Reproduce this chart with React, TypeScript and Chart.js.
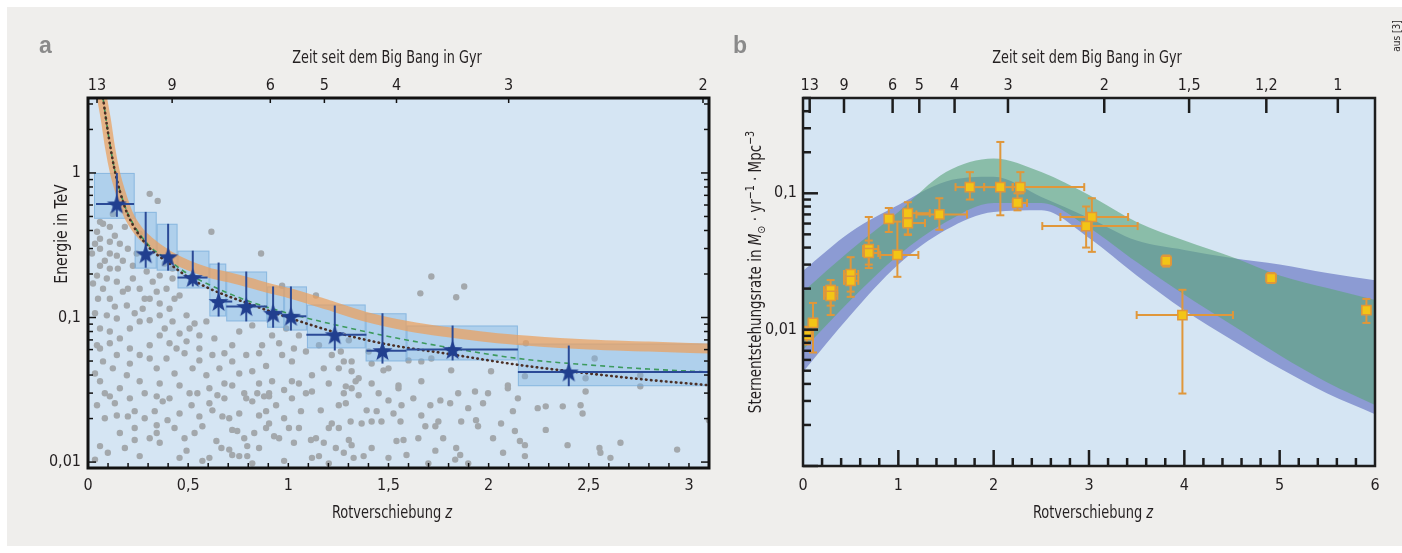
import { useEffect, useRef } from 'react';
import { Chart, registerables } from 'chart.js';

Chart.register(...registerables);

const FONT = '"Liberation Sans Narrow", "DejaVu Sans Condensed", "Open Sans", sans-serif';
const TEXT = '#231f20';

// ---------------- Panel a ----------------
const zTicksA = [0, 0.5, 1, 1.5, 2, 2.5, 3];
const ageZA = [0.045, 0.42, 0.91, 1.18, 1.54, 2.1, 3.07];
const ageLabelsA = ['13', '9', '6', '5', '4', '3', '2'];
const eTicksA = [0.01, 0.1, 1];
const eLabelsA = ['0,01', '0,1', '1'];

const starZ = [0.144, 0.288, 0.4, 0.523, 0.652, 0.79, 0.924, 1.013, 1.232, 1.47, 1.82, 2.4];
const starE = [0.61, 0.276, 0.263, 0.189, 0.129, 0.119, 0.107, 0.102, 0.076, 0.059, 0.06, 0.042];
const starZLo = [0.04, 0.288, 0.4, 0.447, 0.62, 0.69, 0.89, 0.97, 1.09, 1.39, 1.59, 2.146];
const starZHi = [0.23, 0.288, 0.4, 0.597, 0.72, 0.894, 0.97, 1.09, 1.39, 1.59, 2.146, 3.1];
const starELo = [0.497, 0.221, 0.211, 0.164, 0.1017, 0.094, 0.085, 0.0813, 0.0591, 0.048, 0.0505, 0.0335];
const starEHi = [1.0, 0.538, 0.445, 0.29, 0.24, 0.208, 0.164, 0.164, 0.121, 0.107, 0.088, 0.064];

const boxZLo = [0.03, 0.233, 0.343, 0.447, 0.606, 0.69, 0.894, 0.979, 1.093, 1.386, 1.59, 2.146];
const boxZHi = [0.233, 0.343, 0.447, 0.606, 0.69, 0.894, 0.979, 1.093, 1.386, 1.59, 2.146, 3.1];
const boxELo = [0.482, 0.218, 0.211, 0.159, 0.1017, 0.094, 0.085, 0.0813, 0.0612, 0.0497, 0.0505, 0.0335];
const boxEHi = [1.0, 0.538, 0.445, 0.29, 0.236, 0.208, 0.164, 0.164, 0.123, 0.107, 0.088, 0.066];

const bandZ = [0.07, 0.09, 0.11, 0.135, 0.16, 0.2, 0.25, 0.3, 0.4, 0.5, 0.6, 0.7, 0.8, 0.9, 1.0, 1.2, 1.4, 1.6, 1.8, 2.0, 2.2, 2.5, 2.8, 3.1];
const bandE = [3.3, 2.3, 1.5, 1.0, 0.75, 0.52, 0.4, 0.34, 0.27, 0.23, 0.205, 0.19, 0.175, 0.16, 0.148, 0.122, 0.1, 0.087, 0.079, 0.073, 0.069, 0.065, 0.063, 0.061];
const dashZ = [0.075, 0.1, 0.13, 0.16, 0.2, 0.3, 0.4, 0.5, 0.6, 0.8, 1.0, 1.25, 1.5, 1.8, 2.15, 2.5, 2.8, 3.1];
const dashE = [3.3, 1.9, 1.1, 0.75, 0.52, 0.32, 0.25, 0.2, 0.17, 0.13, 0.107, 0.088, 0.074, 0.062, 0.052, 0.047, 0.044, 0.042];
const dotLineZ = [0.075, 0.1, 0.13, 0.16, 0.2, 0.3, 0.4, 0.5, 0.6, 0.8, 1.0, 1.25, 1.5, 1.8, 2.15, 2.5, 2.8, 3.1];
const dotLineE = [3.3, 1.9, 1.1, 0.74, 0.51, 0.31, 0.24, 0.19, 0.16, 0.125, 0.1, 0.078, 0.065, 0.056, 0.047, 0.041, 0.037, 0.034];

const grbDots: [number, number][] = [
  [0.308, 0.717], [0.348, 0.641], [0.616, 0.392], [0.864, 0.277], [0.969, 0.166], [1.138, 0.142],
  [0.045, 0.392], [0.075, 0.445], [0.06, 0.299], [0.109, 0.334], [0.144, 0.268], [0.06, 0.228],
  [0.109, 0.218], [0.144, 0.177], [0.075, 0.158], [0.05, 0.135], [0.109, 0.135], [0.174, 0.151],
  [0.224, 0.186], [0.258, 0.158], [0.194, 0.121], [0.094, 0.1035], [0.144, 0.0985], [0.06, 0.084],
  [0.109, 0.08], [0.159, 0.0717], [0.209, 0.084], [0.258, 0.094], [0.273, 0.115], [0.308, 0.135],
  [0.343, 0.151], [0.323, 0.177], [0.392, 0.158], [0.358, 0.1035], [0.407, 0.115], [0.457, 0.142],
  [0.422, 0.094], [0.492, 0.1035], [0.507, 0.084], [0.358, 0.0752], [0.308, 0.0643], [0.258, 0.0551],
  [0.209, 0.0611], [0.144, 0.0551], [0.075, 0.0497], [0.124, 0.0445], [0.194, 0.0399], [0.258, 0.0362],
  [0.343, 0.0445], [0.392, 0.0521], [0.442, 0.0611], [0.492, 0.0684], [0.556, 0.0752], [0.591, 0.094],
  [0.556, 0.0611], [0.621, 0.0551], [0.522, 0.0445], [0.591, 0.0399], [0.656, 0.0445], [0.72, 0.0643],
  [0.755, 0.08], [0.82, 0.0882], [0.72, 0.0497], [0.79, 0.0551], [0.869, 0.0643], [0.919, 0.0752],
  [0.989, 0.084], [1.053, 0.0752], [0.82, 0.0425], [0.889, 0.0462], [0.969, 0.0551], [1.018, 0.0497],
  [1.088, 0.0582], [1.153, 0.0643], [1.217, 0.0551], [1.118, 0.0399], [1.252, 0.0445], [1.316, 0.0497],
  [1.336, 0.0362], [1.018, 0.0362], [0.919, 0.0362], [0.72, 0.0339], [0.457, 0.0339], [0.045, 0.0643],
  [0.06, 0.0362], [0.06, 0.459], [0.109, 0.424], [0.134, 0.368], [0.06, 0.351], [0.159, 0.324],
  [0.109, 0.277], [0.174, 0.247], [0.224, 0.228], [0.045, 0.195], [0.094, 0.186], [0.293, 0.208],
  [0.358, 0.195], [0.422, 0.186], [0.422, 0.218],
  [0.045, 0.0247], [0.109, 0.0285], [0.144, 0.021], [0.199, 0.0207], [0.233, 0.0225], [0.233, 0.0172],
  [0.233, 0.0142], [0.06, 0.0129], [0.035, 0.0104], [0.258, 0.011], [0.333, 0.0225], [0.343, 0.018],
  [0.343, 0.0159], [0.358, 0.0136], [0.397, 0.0195], [0.343, 0.0285], [0.373, 0.0263], [0.407, 0.0276],
  [0.492, 0.012], [0.517, 0.0247], [0.546, 0.0299], [0.556, 0.0207], [0.571, 0.0177], [0.606, 0.0107],
  [0.571, 0.0102], [0.641, 0.014], [0.646, 0.029], [0.621, 0.0228], [0.671, 0.0207], [0.705, 0.0201],
  [0.72, 0.0167], [0.745, 0.0164], [0.666, 0.0125], [0.705, 0.0122], [0.72, 0.0112], [0.755, 0.011],
  [0.795, 0.0129], [0.795, 0.011], [0.79, 0.0276], [0.82, 0.0263], [0.845, 0.0299], [0.854, 0.021],
  [0.83, 0.0159], [0.889, 0.0172], [0.889, 0.0225], [0.904, 0.0285], [0.939, 0.0247], [0.929, 0.0151],
  [0.954, 0.0146], [1.003, 0.0172], [1.018, 0.0276], [1.063, 0.0225], [1.088, 0.0299], [1.118, 0.0308],
  [1.113, 0.0142], [1.138, 0.0146], [1.118, 0.0107], [1.153, 0.011], [1.162, 0.0228], [1.202, 0.0172],
  [1.217, 0.0185], [1.252, 0.0247], [1.287, 0.0255], [1.311, 0.0191], [1.302, 0.0142], [1.237, 0.0125],
  [1.316, 0.0324], [0.979, 0.0102], [0.82, 0.0098],
  [1.287, 0.0334], [1.351, 0.029], [1.416, 0.035], [1.55, 0.0324], [1.5, 0.0267], [1.391, 0.0228],
  [1.441, 0.0225], [1.366, 0.0185], [1.416, 0.0191], [1.465, 0.0191], [1.565, 0.0247], [1.56, 0.0191],
  [1.575, 0.0142], [1.54, 0.014], [1.59, 0.0112], [1.416, 0.0125], [1.376, 0.011], [1.326, 0.0107],
  [1.316, 0.0131], [1.664, 0.021], [1.709, 0.0247], [1.759, 0.0267], [1.808, 0.0255], [1.749, 0.0191],
  [1.684, 0.0177], [1.734, 0.0177], [1.734, 0.012], [1.838, 0.0125], [1.858, 0.0112], [1.833, 0.0104],
  [1.932, 0.0308], [1.972, 0.0255], [1.937, 0.0195], [1.947, 0.0177], [1.863, 0.0191], [1.898, 0.0236],
  [2.062, 0.0185], [2.131, 0.0164], [2.156, 0.014], [2.181, 0.0131], [2.181, 0.011], [2.121, 0.0225],
  [2.146, 0.0276], [2.096, 0.0324], [2.245, 0.0236], [2.285, 0.0243], [2.285, 0.0167], [2.37, 0.0243],
  [2.459, 0.0247], [2.469, 0.0217], [2.484, 0.0308], [2.394, 0.0131], [2.553, 0.0125], [2.558, 0.0116],
  [2.608, 0.0107], [2.658, 0.0136], [2.757, 0.0334], [2.941, 0.0122], [3.1, 0.0195],
  [1.714, 0.192], [1.659, 0.147], [1.838, 0.138], [1.878, 0.164], [1.302, 0.0695], [1.401, 0.0582],
  [1.416, 0.048], [1.475, 0.0431], [1.5, 0.0445], [1.351, 0.038], [1.316, 0.0425], [1.277, 0.0497],
  [1.262, 0.0582], [1.6, 0.0505], [1.664, 0.0497], [1.714, 0.0521], [1.55, 0.0339], [1.664, 0.0362],
  [1.813, 0.0431], [2.012, 0.0425], [2.096, 0.0339], [2.186, 0.0663], [2.181, 0.0393], [2.484, 0.038],
  [2.529, 0.0521], [2.757, 0.0399],
  [0.184, 0.424], [0.258, 0.38], [0.084, 0.247], [0.199, 0.299], [0.243, 0.277], [0.383, 0.236],
  [0.149, 0.218], [0.025, 0.172], [0.199, 0.158], [0.283, 0.135], [0.358, 0.125], [0.432, 0.135],
  [0.02, 0.277], [0.124, 0.521], [0.035, 0.324],
  [0.035, 0.107], [0.134, 0.119], [0.233, 0.107], [0.308, 0.0957], [0.383, 0.084], [0.457, 0.0775],
  [0.532, 0.091], [0.631, 0.0717], [0.681, 0.0566], [0.556, 0.0505], [0.482, 0.0566], [0.407, 0.0663],
  [0.308, 0.0521], [0.209, 0.048], [0.159, 0.0324], [0.283, 0.0299], [0.358, 0.035], [0.432, 0.041],
  [0.507, 0.0299], [0.606, 0.0324], [0.681, 0.035], [0.755, 0.041], [0.78, 0.0299], [0.854, 0.035],
  [0.904, 0.0299], [0.084, 0.0299], [0.035, 0.041], [0.06, 0.0611], [0.109, 0.0663],
  [0.854, 0.0566], [0.954, 0.0663], [1.028, 0.0611], [1.177, 0.0445], [1.053, 0.035], [0.979, 0.0315],
  [0.879, 0.0285], [1.277, 0.0299], [1.202, 0.035],
  [0.084, 0.0201], [0.159, 0.0159], [0.099, 0.0116], [0.184, 0.0125], [0.283, 0.0201], [0.308, 0.0146],
  [0.432, 0.0172], [0.457, 0.0217], [0.482, 0.0146], [0.532, 0.0159], [0.606, 0.0255], [0.681, 0.0276],
  [0.755, 0.0217], [0.78, 0.0146], [0.854, 0.0125], [0.904, 0.0185], [0.979, 0.0201], [1.028, 0.0136],
  [1.053, 0.0172], [1.177, 0.0136], [1.252, 0.0172], [1.277, 0.0116], [1.202, 0.0098], [0.134, 0.0255],
  [0.209, 0.0276], [0.457, 0.0107],
  [1.451, 0.0299], [1.525, 0.0217], [1.624, 0.0276], [1.649, 0.0146], [1.773, 0.0146], [1.848, 0.0299],
  [1.997, 0.0299], [2.022, 0.0146], [2.072, 0.0116], [1.898, 0.0098], [1.5, 0.0107], [1.699, 0.0098],
];

// ---------------- Panel b ----------------
const zTicksB = [0, 1, 2, 3, 4, 5, 6];
const ageZB = [0.07, 0.43, 0.94, 1.22, 1.59, 2.15, 3.16, 4.05, 4.86, 5.61];
const ageLabelsB = ['13', '9', '6', '5', '4', '3', '2', '1,5', '1,2', '1'];
const sfrTicksB = [0.01, 0.1];
const sfrLabelsB = ['0,01', '0,1'];

const sfrBandZ = [0, 0.5, 1, 1.5, 2, 2.5, 3, 3.5, 4, 4.5, 5, 5.5, 6];
const blueHi = [0.027, 0.052, 0.082, 0.122, 0.132, 0.094, 0.066, 0.045, 0.0384, 0.0335, 0.03, 0.026, 0.023];
const blueLo = [0.0049, 0.0128, 0.03, 0.054, 0.073, 0.075, 0.047, 0.025, 0.0139, 0.0084, 0.0052, 0.0034, 0.0024];
const greenHi = [0.019, 0.0384, 0.073, 0.143, 0.18, 0.143, 0.097, 0.0616, 0.045, 0.0341, 0.025, 0.0202, 0.0165];
const greenLo = [0.0071, 0.0165, 0.0352, 0.0616, 0.085, 0.085, 0.056, 0.0313, 0.018, 0.0108, 0.0065, 0.0041, 0.0028];

const ptZ = [0.04, 0.105, 0.29, 0.29, 0.5, 0.5, 0.69, 0.69, 0.9, 0.99, 1.1, 1.1, 1.43, 1.75, 2.07, 2.28, 2.25, 3.03, 2.97, 3.81, 3.98, 4.91, 5.91];
const ptV = [0.0091, 0.0112, 0.0195, 0.0177, 0.0256, 0.0228, 0.039, 0.0365, 0.065, 0.0353, 0.0715, 0.0605, 0.07, 0.111, 0.111, 0.111, 0.085, 0.067, 0.0575, 0.0319, 0.0128, 0.0239, 0.0139];
const ptZLo = [0.01, 0.06, 0.22, 0.22, 0.43, 0.43, 0.63, 0.63, 0.86, 0.81, 1.05, 1.05, 1.19, 1.6, 1.9, 2.2, 2.2, 2.7, 2.51, 3.76, 3.5, 4.86, 5.87];
const ptZHi = [0.07, 0.15, 0.36, 0.36, 0.58, 0.58, 0.79, 0.79, 0.95, 1.21, 1.33, 1.28, 1.72, 1.9, 2.2, 2.95, 2.35, 3.41, 3.51, 3.86, 4.51, 4.96, 5.95];
const ptVLo = [0.0078, 0.0068, 0.0128, 0.015, 0.0174, 0.019, 0.0283, 0.03, 0.052, 0.0244, 0.0495, 0.05, 0.054, 0.09, 0.069, 0.1, 0.075, 0.0372, 0.04, 0.029, 0.0034, 0.022, 0.0112];
const ptVHi = [0.0105, 0.0157, 0.0231, 0.021, 0.034, 0.027, 0.067, 0.045, 0.078, 0.062, 0.086, 0.075, 0.092, 0.143, 0.238, 0.143, 0.1, 0.092, 0.08, 0.035, 0.0196, 0.026, 0.0168];

// ---------------- helpers ----------------
const PLOT_BG = '#d5e5f3';

function makeStar(color: string, R: number, r: number) {
  const c = document.createElement('canvas');
  const s = Math.ceil(R * 2 + 2);
  c.width = s;
  c.height = s;
  const g = c.getContext('2d')!;
  g.translate(s / 2, s / 2 + 1);
  g.beginPath();
  for (let i = 0; i < 10; i++) {
    const rad = i % 2 === 0 ? R : r;
    const a = -Math.PI / 2 + (i * Math.PI) / 5;
    g.lineTo(rad * Math.cos(a), rad * Math.sin(a));
  }
  g.closePath();
  g.fillStyle = color;
  g.fill();
  return c;
}

type Part = { t: string; font: string; dy?: number };
function drawRich(ctx: CanvasRenderingContext2D, parts: Part[], cx: number, cy: number, rotate: boolean, sx = 1) {
  ctx.save();
  let total = 0;
  const widths = parts.map((p) => {
    ctx.font = p.font;
    const w = ctx.measureText(p.t).width;
    total += w;
    return w;
  });
  ctx.translate(cx, cy);
  if (rotate) ctx.rotate(-Math.PI / 2);
  ctx.scale(sx, 1);
  ctx.fillStyle = TEXT;
  ctx.textBaseline = 'alphabetic';
  ctx.textAlign = 'left';
  let x = -total / 2;
  parts.forEach((p, i) => {
    ctx.font = p.font;
    ctx.fillText(p.t, x, p.dy || 0);
    x += widths[i];
  });
  ctx.restore();
}

function line(ctx: CanvasRenderingContext2D, x1: number, y1: number, x2: number, y2: number) {
  ctx.beginPath();
  ctx.moveTo(x1, y1);
  ctx.lineTo(x2, y2);
  ctx.stroke();
}

function logTicks(min: number, max: number) {
  const out: { v: number; major: boolean }[] = [];
  for (let d = 0.0001; d <= 10; d *= 10) {
    for (let m = 1; m <= 9; m++) {
      const v = +(m * d).toPrecision(3);
      if (v >= min && v <= max) out.push({ v, major: m === 1 });
    }
  }
  return out;
}

const fmt = (v: number) => String(+v.toFixed(2)).replace('.', ',');
const f17 = `17px ${FONT}`;

export default function App() {
  const refA = useRef<HTMLCanvasElement>(null);
  const refB = useRef<HTMLCanvasElement>(null);

  useEffect(() => {
    const starImg = makeStar('#213f8f', 10.5, 4.3);

    const pluginA = {
      id: 'decoA',
      beforeDraw(chart: any) {
        const { ctx, chartArea: a } = chart;
        ctx.save();
        ctx.fillStyle = PLOT_BG;
        ctx.fillRect(a.left, a.top, a.width, a.height);
        ctx.restore();
      },
      afterDatasetDraw(chart: any, args: any) {
        const { ctx } = chart;
        const xs = chart.scales.x;
        const ys = chart.scales.y;
        if (args.index === 4) {
          ctx.save();
          for (let i = 0; i < boxZLo.length; i++) {
            const x1 = xs.getPixelForValue(boxZLo[i]);
            const x2 = xs.getPixelForValue(boxZHi[i]);
            const y1 = ys.getPixelForValue(boxEHi[i]);
            const y2 = ys.getPixelForValue(boxELo[i]);
            ctx.fillStyle = 'rgba(125,178,226,0.42)';
            ctx.fillRect(x1, y1, x2 - x1, y2 - y1);
            ctx.strokeStyle = 'rgba(110,165,215,0.55)';
            ctx.lineWidth = 1;
            ctx.strokeRect(x1 + 0.5, y1 + 0.5, x2 - x1 - 1, y2 - y1 - 1);
          }
          ctx.restore();
        }
      },
      beforeDatasetDraw(chart: any, args: any) {
        if (args.index !== 0) return;
        const { ctx } = chart;
        const xs = chart.scales.x;
        const ys = chart.scales.y;
        ctx.save();
        ctx.strokeStyle = '#2b4a96';
        ctx.lineWidth = 2;
        for (let i = 0; i < starZ.length; i++) {
          const x = xs.getPixelForValue(starZ[i]);
          const y = ys.getPixelForValue(starE[i]);
          line(ctx, x, ys.getPixelForValue(starEHi[i]), x, ys.getPixelForValue(starELo[i]));
          if (starZHi[i] > starZLo[i]) line(ctx, xs.getPixelForValue(starZLo[i]), y, xs.getPixelForValue(starZHi[i]), y);
        }
        ctx.restore();
      },
      afterDraw(chart: any) {
        const { ctx, chartArea: a } = chart;
        const xs = chart.scales.x;
        const ys = chart.scales.y;
        ctx.save();
        ctx.strokeStyle = '#111';
        ctx.lineWidth = 1.5;
        for (let k = 1; k <= 31; k++) {
          const px = xs.getPixelForValue(k / 10);
          if (px < a.right - 2) line(ctx, px, a.bottom, px, a.bottom - 5);
        }
        ageZA.forEach((z) => {
          const px = xs.getPixelForValue(z);
          line(ctx, px, a.top, px, a.top + 5);
        });
        logTicks(ys.min, ys.max).forEach((t) => {
          const py = ys.getPixelForValue(t.v);
          const len = t.major ? 8 : 5;
          line(ctx, a.left, py, a.left + len, py);
          line(ctx, a.right, py, a.right - len, py);
        });
        ctx.lineWidth = 3;
        ctx.strokeStyle = '#111';
        ctx.strokeRect(a.left, a.top, a.width, a.height);
        ctx.restore();

        drawRich(ctx, [{ t: 'Zeit seit dem Big Bang in Gyr', font: f17 }], 387, 63, false, 0.84);
        drawRich(ctx, [{ t: 'Rotverschiebung ', font: f17 }, { t: 'z', font: `italic 17px ${FONT}` }], 392, 518, false, 0.85);
        drawRich(ctx, [{ t: 'Energie in TeV', font: f17 }], 67, 234, true, 0.92);
        ctx.save();
        ctx.font = `bold 23px "Liberation Sans", "DejaVu Sans", sans-serif`;
        ctx.fillStyle = '#8a8a8a';
        ctx.fillText('a', 39, 53);
        ctx.restore();
      },
    };

    const chartA = new Chart(refA.current!, {
      type: 'scatter',
      data: {
        datasets: [
          {
            data: starZ.map((z, i) => ({ x: z, y: starE[i] })),
            pointStyle: starImg as any,
            pointRadius: 10,
          } as any,
          {
            type: 'line',
            data: dotLineZ.map((z, i) => ({ x: z, y: dotLineE[i] })),
            borderColor: '#4b2f25',
            borderWidth: 2.6,
            borderDash: [0.5, 4.5],
            borderCapStyle: 'round',
            pointRadius: 0,
            cubicInterpolationMode: 'monotone',
          },
          {
            type: 'line',
            data: dashZ.map((z, i) => ({ x: z, y: dashE[i] })),
            borderColor: '#3d9a5e',
            borderWidth: 1.6,
            borderDash: [5, 4],
            pointRadius: 0,
            cubicInterpolationMode: 'monotone',
          },
          {
            type: 'line',
            data: bandZ.map((z, i) => ({ x: z, y: bandE[i] })),
            borderColor: 'rgba(236,160,92,0.72)',
            borderWidth: 10,
            pointRadius: 0,
            cubicInterpolationMode: 'monotone',
          },
          {
            data: grbDots.map(([z, e]) => ({ x: z, y: e })),
            pointRadius: 3.2,
            backgroundColor: '#a3a8ac',
            borderWidth: 0,
          },
        ] as any,
      },
      options: {
        responsive: false,
        animation: false,
        events: [],
        layout: { padding: { left: 0, right: 7, top: 0, bottom: 0 } },
        plugins: { legend: { display: false }, tooltip: { enabled: false } },
        scales: {
          x: {
            type: 'linear',
            position: 'bottom',
            min: 0,
            max: 3.1,
            grid: { display: false, drawTicks: false },
            border: { display: false },
            afterBuildTicks: (s: any) => { s.ticks = zTicksA.map((v) => ({ value: v })); },
            ticks: { padding: 8, color: TEXT, font: { family: FONT, size: 16 }, maxRotation: 0, autoSkip: false, callback: (v: any) => fmt(+v) },
            afterFit: (s: any) => { s.height = 85; },
          },
          xTop: {
            type: 'linear',
            position: 'top',
            min: 0,
            max: 3.1,
            grid: { display: false, drawTicks: false },
            border: { display: false },
            afterBuildTicks: (s: any) => { s.ticks = ageZA.map((v) => ({ value: v })); },
            ticks: { padding: 3, color: TEXT, font: { family: FONT, size: 16 }, maxRotation: 0, autoSkip: false, callback: (_v: any, i: number) => ageLabelsA[i] },
            afterFit: (s: any) => { s.height = 98; },
          },
          y: {
            type: 'logarithmic',
            position: 'left',
            min: 0.0091,
            max: 3.3,
            grid: { display: false, drawTicks: false },
            border: { display: false },
            afterBuildTicks: (s: any) => { s.ticks = eTicksA.map((v) => ({ value: v })); },
            ticks: { padding: 7, color: TEXT, font: { family: FONT, size: 16 }, autoSkip: false, callback: (_v: any, i: number) => eLabelsA[i] },
            afterFit: (s: any) => { s.width = 88; },
          },
        } as any,
      },
      plugins: [pluginA as any],
    });

    const pluginB = {
      id: 'decoB',
      beforeDraw(chart: any) {
        const { ctx, chartArea: a } = chart;
        ctx.save();
        ctx.fillStyle = PLOT_BG;
        ctx.fillRect(a.left, a.top, a.width, a.height);
        ctx.restore();
      },
      beforeDatasetDraw(chart: any, args: any) {
        if (args.index !== 0) return;
        const { ctx } = chart;
        const xs = chart.scales.x;
        const ys = chart.scales.y;
        ctx.save();
        ctx.strokeStyle = '#e0973a';
        ctx.lineWidth = 2;
        const cap = 4;
        for (let i = 0; i < ptZ.length; i++) {
          const x = xs.getPixelForValue(ptZ[i]);
          const y = ys.getPixelForValue(ptV[i]);
          const yh = ys.getPixelForValue(ptVHi[i]);
          const yl = ys.getPixelForValue(ptVLo[i]);
          const xl = xs.getPixelForValue(ptZLo[i]);
          const xh = xs.getPixelForValue(ptZHi[i]);
          line(ctx, x, yh, x, yl);
          line(ctx, x - cap, yh, x + cap, yh);
          line(ctx, x - cap, yl, x + cap, yl);
          line(ctx, xl, y, xh, y);
          line(ctx, xl, y - cap, xl, y + cap);
          line(ctx, xh, y - cap, xh, y + cap);
        }
        ctx.restore();
      },
      afterDraw(chart: any) {
        const { ctx, chartArea: a } = chart;
        const xs = chart.scales.x;
        const ys = chart.scales.y;
        ctx.save();
        ctx.strokeStyle = '#1d1d1d';
        ctx.lineWidth = 2.5;
        for (let k = 1; k < 30; k++) {
          const px = xs.getPixelForValue(k / 5);
          const len = k % 5 === 0 ? 16 : 8;
          line(ctx, px, a.bottom, px, a.bottom - len);
        }
        ageZB.forEach((z) => {
          const px = xs.getPixelForValue(z);
          line(ctx, px, a.top, px, a.top + 15);
        });
        logTicks(ys.min, ys.max).forEach((t) => {
          const py = ys.getPixelForValue(t.v);
          const len = t.major ? 15 : 8;
          line(ctx, a.left, py, a.left + len, py);
        });
        ctx.lineWidth = 2.5;
        ctx.strokeRect(a.left, a.top, a.width, a.height);
        ctx.restore();

        drawRich(ctx, [{ t: 'Zeit seit dem Big Bang in Gyr', font: f17 }], 367, 63, false, 0.84);
        drawRich(ctx, [{ t: 'Rotverschiebung ', font: f17 }, { t: 'z', font: `italic 17px ${FONT}` }], 373, 518, false, 0.85);
        drawRich(
          ctx,
          [
            { t: 'Sternentstehungsrate in ', font: f17 },
            { t: 'M', font: `italic 17px ${FONT}` },
            { t: '\u2299', font: `11px "DejaVu Sans", ${FONT}`, dy: 4 },
            { t: ' \u00b7 yr', font: f17 },
            { t: '\u22121', font: `12px ${FONT}`, dy: -7 },
            { t: ' \u00b7 Mpc', font: f17 },
            { t: '\u22123', font: `12px ${FONT}`, dy: -7 },
          ],
          41,
          272,
          true,
          0.88
        );
        ctx.save();
        ctx.font = `bold 23px "Liberation Sans", "DejaVu Sans", sans-serif`;
        ctx.fillStyle = '#8a8a8a';
        ctx.fillText('b', 13, 53);
        ctx.restore();
        drawRich(ctx, [{ t: 'aus [3]', font: `10px ${FONT}` }], 680, 36, true);
      },
    };

    const chartB = new Chart(refB.current!, {
      type: 'scatter',
      data: {
        datasets: [
          {
            data: ptZ.map((z, i) => ({ x: z, y: ptV[i] })),
            pointStyle: 'rect',
            pointRadius: 6.5,
            backgroundColor: '#f3c516',
            borderColor: '#e0973a',
            borderWidth: 1.5,
          },
          {
            type: 'line',
            data: sfrBandZ.map((z, i) => ({ x: z, y: greenHi[i] })),
            borderWidth: 0,
            pointRadius: 0,
            fill: '+1',
            backgroundColor: 'rgba(92,165,122,0.62)',
            cubicInterpolationMode: 'monotone',
          },
          {
            type: 'line',
            data: sfrBandZ.map((z, i) => ({ x: z, y: greenLo[i] })),
            borderWidth: 0,
            pointRadius: 0,
            fill: false,
            cubicInterpolationMode: 'monotone',
          },
          {
            type: 'line',
            data: sfrBandZ.map((z, i) => ({ x: z, y: blueHi[i] })),
            borderWidth: 0,
            pointRadius: 0,
            fill: '+1',
            backgroundColor: '#8c9bd3',
            cubicInterpolationMode: 'monotone',
          },
          {
            type: 'line',
            data: sfrBandZ.map((z, i) => ({ x: z, y: blueLo[i] })),
            borderWidth: 0,
            pointRadius: 0,
            fill: false,
            cubicInterpolationMode: 'monotone',
          },
        ] as any,
      },
      options: {
        responsive: false,
        animation: false,
        events: [],
        layout: { padding: { left: 0, right: 27, top: 0, bottom: 0 } },
        plugins: { legend: { display: false }, tooltip: { enabled: false } },
        scales: {
          x: {
            type: 'linear',
            position: 'bottom',
            min: 0,
            max: 6,
            grid: { display: false, drawTicks: false },
            border: { display: false },
            afterBuildTicks: (s: any) => { s.ticks = zTicksB.map((v) => ({ value: v })); },
            ticks: { padding: 10, color: TEXT, font: { family: FONT, size: 16 }, maxRotation: 0, autoSkip: false },
            afterFit: (s: any) => { s.height = 87; },
          },
          xTop: {
            type: 'linear',
            position: 'top',
            min: 0,
            max: 6,
            grid: { display: false, drawTicks: false },
            border: { display: false },
            afterBuildTicks: (s: any) => { s.ticks = ageZB.map((v) => ({ value: v })); },
            ticks: { padding: 3, color: TEXT, font: { family: FONT, size: 16 }, maxRotation: 0, autoSkip: false, callback: (_v: any, i: number) => ageLabelsB[i] },
            afterFit: (s: any) => { s.height = 98; },
          },
          y: {
            type: 'logarithmic',
            position: 'left',
            min: 0.001,
            max: 0.5,
            grid: { display: false, drawTicks: false },
            border: { display: false },
            afterBuildTicks: (s: any) => { s.ticks = sfrTicksB.map((v) => ({ value: v })); },
            ticks: { padding: 6, color: TEXT, font: { family: FONT, size: 16 }, autoSkip: false, callback: (_v: any, i: number) => sfrLabelsB[i] },
            afterFit: (s: any) => { s.width = 83; },
          },
        } as any,
      },
      plugins: [pluginB as any],
    });

    return () => {
      chartA.destroy();
      chartB.destroy();
    };
  }, []);

  return (
    <div style={{ position: 'fixed', left: 0, top: 0, width: 1402, height: 553, background: '#ffffff', overflow: 'hidden' }}>
      <div style={{ position: 'absolute', left: 7, top: 7, width: 1395, height: 539, background: '#efeeec' }} />
      <canvas ref={refA} width={720} height={553} style={{ position: 'absolute', left: 0, top: 0 }} />
      <canvas ref={refB} width={682} height={553} style={{ position: 'absolute', left: 720, top: 0 }} />
    </div>
  );
}
